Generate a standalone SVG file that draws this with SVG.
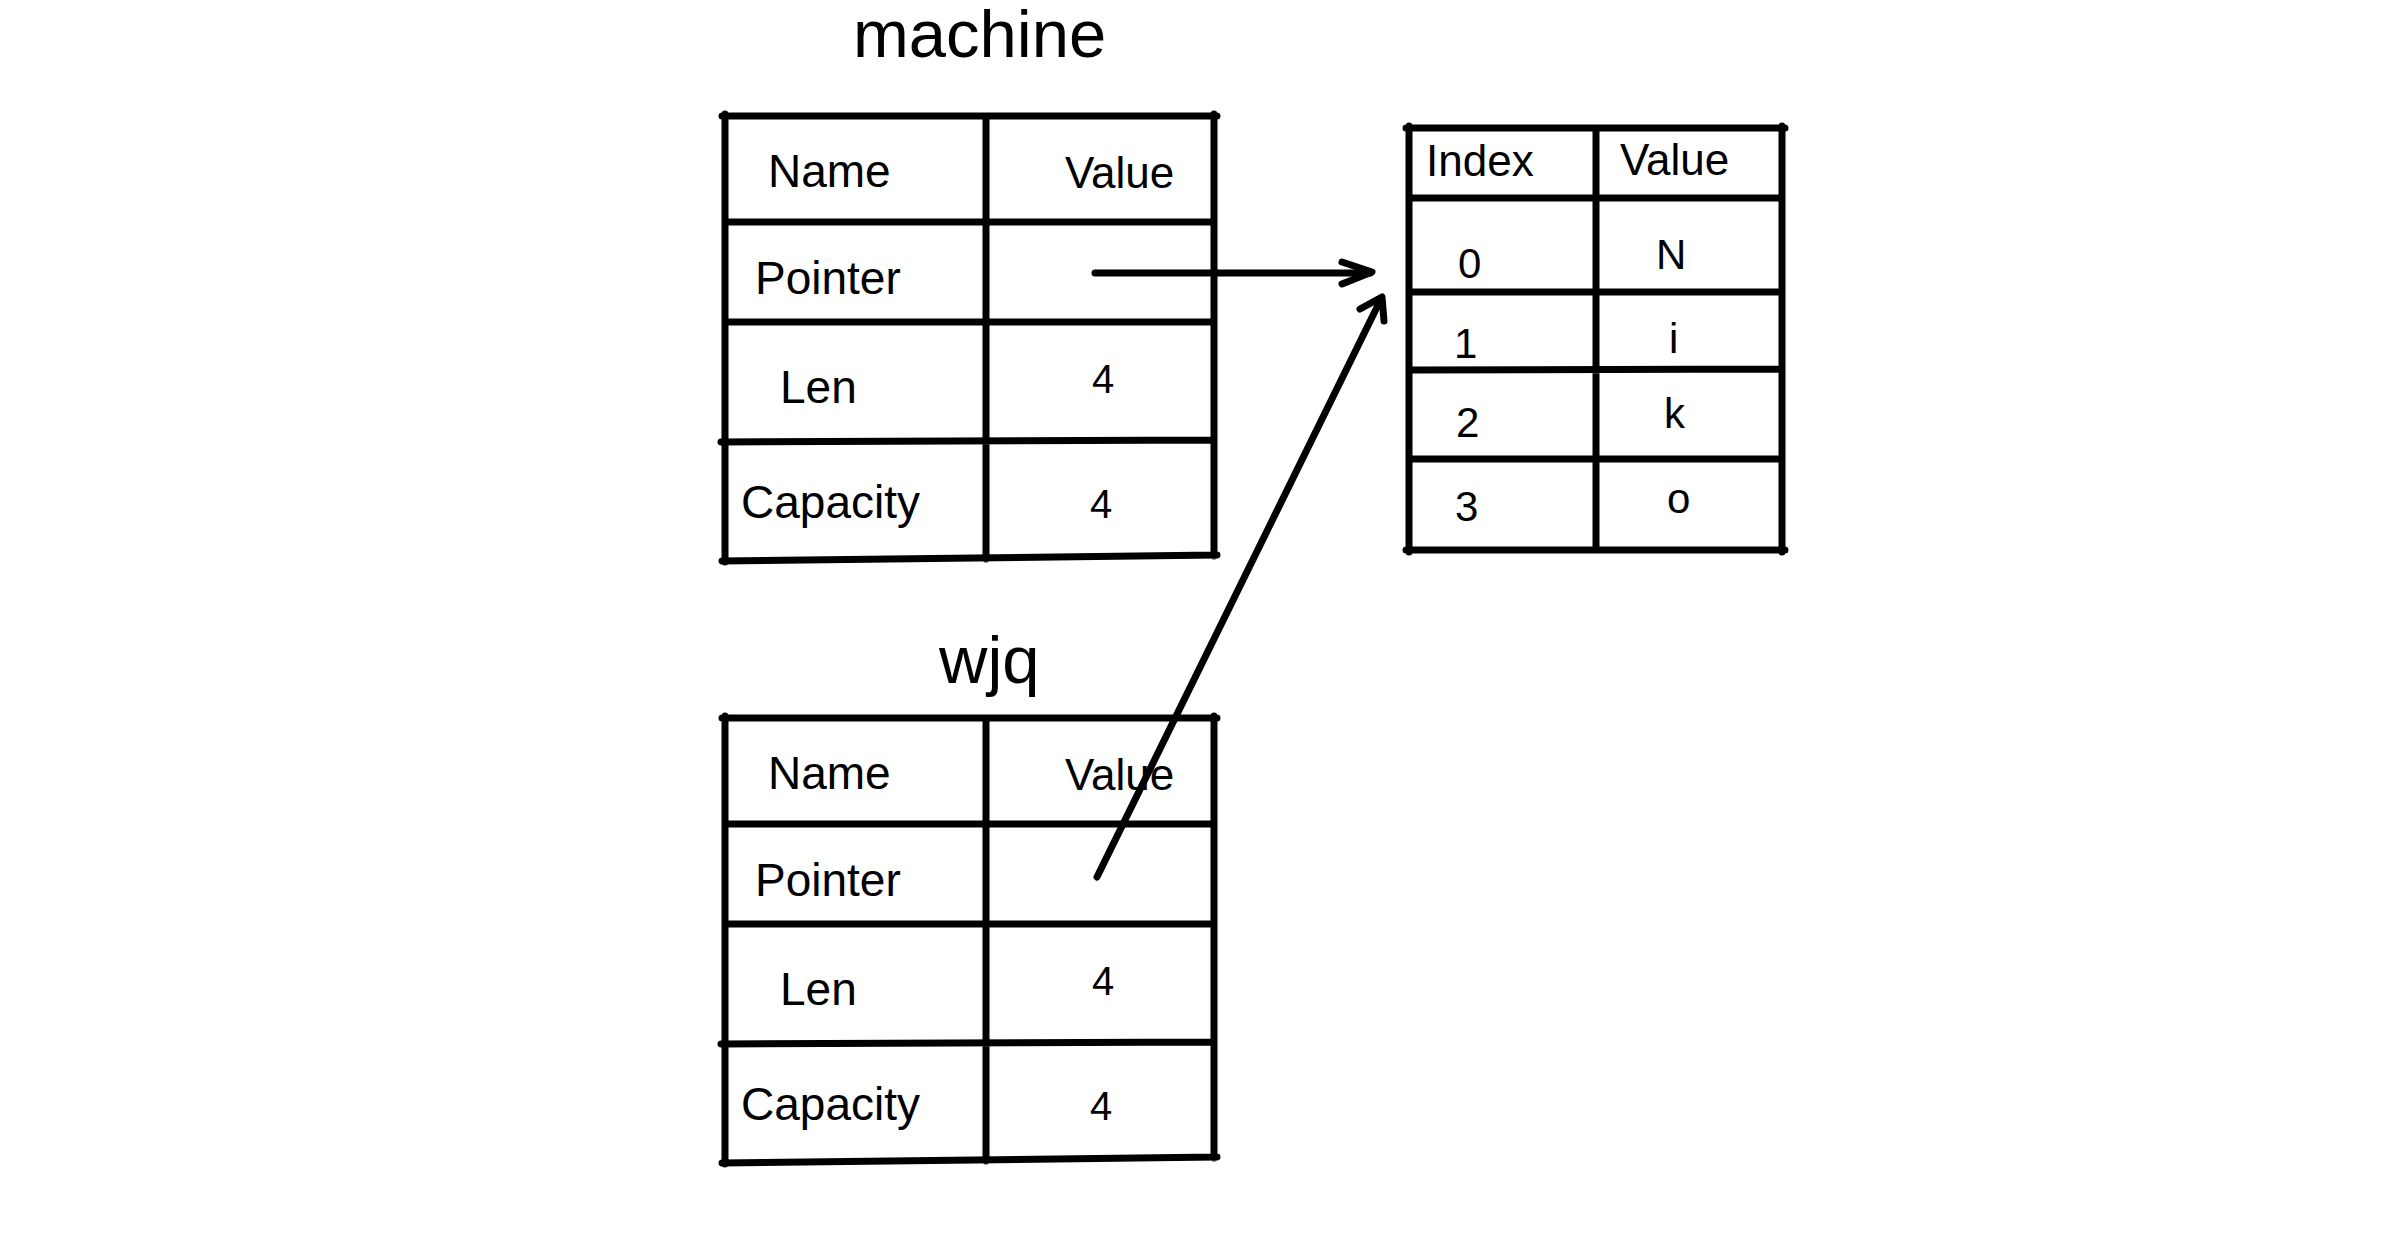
<svg xmlns="http://www.w3.org/2000/svg" width="2388" height="1242" viewBox="0 0 2388 1242">
<style>
.ln{stroke:#000;stroke-width:7;stroke-linecap:round;fill:none}
.ar{stroke:#000;stroke-width:7;stroke-linecap:round;stroke-linejoin:round;fill:none}
text{font-family:"Liberation Sans",Arial,Helvetica,sans-serif;fill:#000}
.t{font-size:46px}
.v{font-size:44px}
.d{font-size:40px}
.h{font-size:67px}
.x{font-size:42px}
.xh{font-size:44px}
</style>
<rect width="2388" height="1242" fill="#fff"/>
<g id="machine">
<text class="h" x="853" y="57">machine</text>
<path class="ln" d="M725 114 L725 562 M1214 114 L1214 556 M722 116 L1217 116 M722 561 L1217 555 M986 116 L986 559 M729 222 L1214 222 M725 322 L1214 322 M721 442 L1214 440"/>
<text class="t" x="768" y="187">Name</text>
<text class="v" x="1065" y="188">Value</text>
<text class="t" x="755" y="294">Pointer</text>
<text class="t" x="780" y="403">Len</text>
<text class="d" x="1092" y="393">4</text>
<text class="t" x="741" y="518">Capacity</text>
<text class="d" x="1090" y="518">4</text>
</g>
<g id="wjq">
<text class="h" x="939" y="683">wjq</text>
<path class="ln" d="M725 716 L725 1164 M1214 716 L1214 1158 M722 718 L1217 718 M722 1163 L1217 1157 M986 718 L986 1161 M729 824 L1214 824 M725 924 L1214 924 M721 1044 L1214 1042"/>
<text class="t" x="768" y="789">Name</text>
<text class="v" x="1065" y="790">Value</text>
<text class="t" x="755" y="896">Pointer</text>
<text class="t" x="780" y="1005">Len</text>
<text class="d" x="1092" y="995">4</text>
<text class="t" x="741" y="1120">Capacity</text>
<text class="d" x="1090" y="1120">4</text>
</g>
<g id="array">
<path class="ln" d="M1409 126 L1409 552 M1782 126 L1782 552 M1406 128 L1785 128 M1406 550 L1785 550 M1596 128 L1596 550 M1409 198 L1782 198 M1409 292 L1782 292 M1412 370 L1780 369 M1409 459 L1782 459"/>
<text class="xh" x="1426" y="176">Index</text>
<text class="xh" x="1620" y="175">Value</text>
<text class="x" x="1458" y="278">0</text>
<text class="x" x="1656" y="269">N</text>
<text class="x" x="1454" y="358">1</text>
<text class="x" x="1669" y="353">i</text>
<text class="x" x="1456" y="437">2</text>
<text class="x" x="1664" y="428">k</text>
<text class="x" x="1455" y="521">3</text>
<text class="x" x="1667" y="513">o</text>
</g>
<g id="connectors">
<path class="ar" d="M1095 273 L1370 273"/>
<path class="ar" d="M1342 262 L1372 272 L1342 284"/>
<path class="ar" d="M1097 877 L1381 299"/>
<path class="ar" d="M1360 309 L1382 297 L1384 321"/>
</g>
</svg>
